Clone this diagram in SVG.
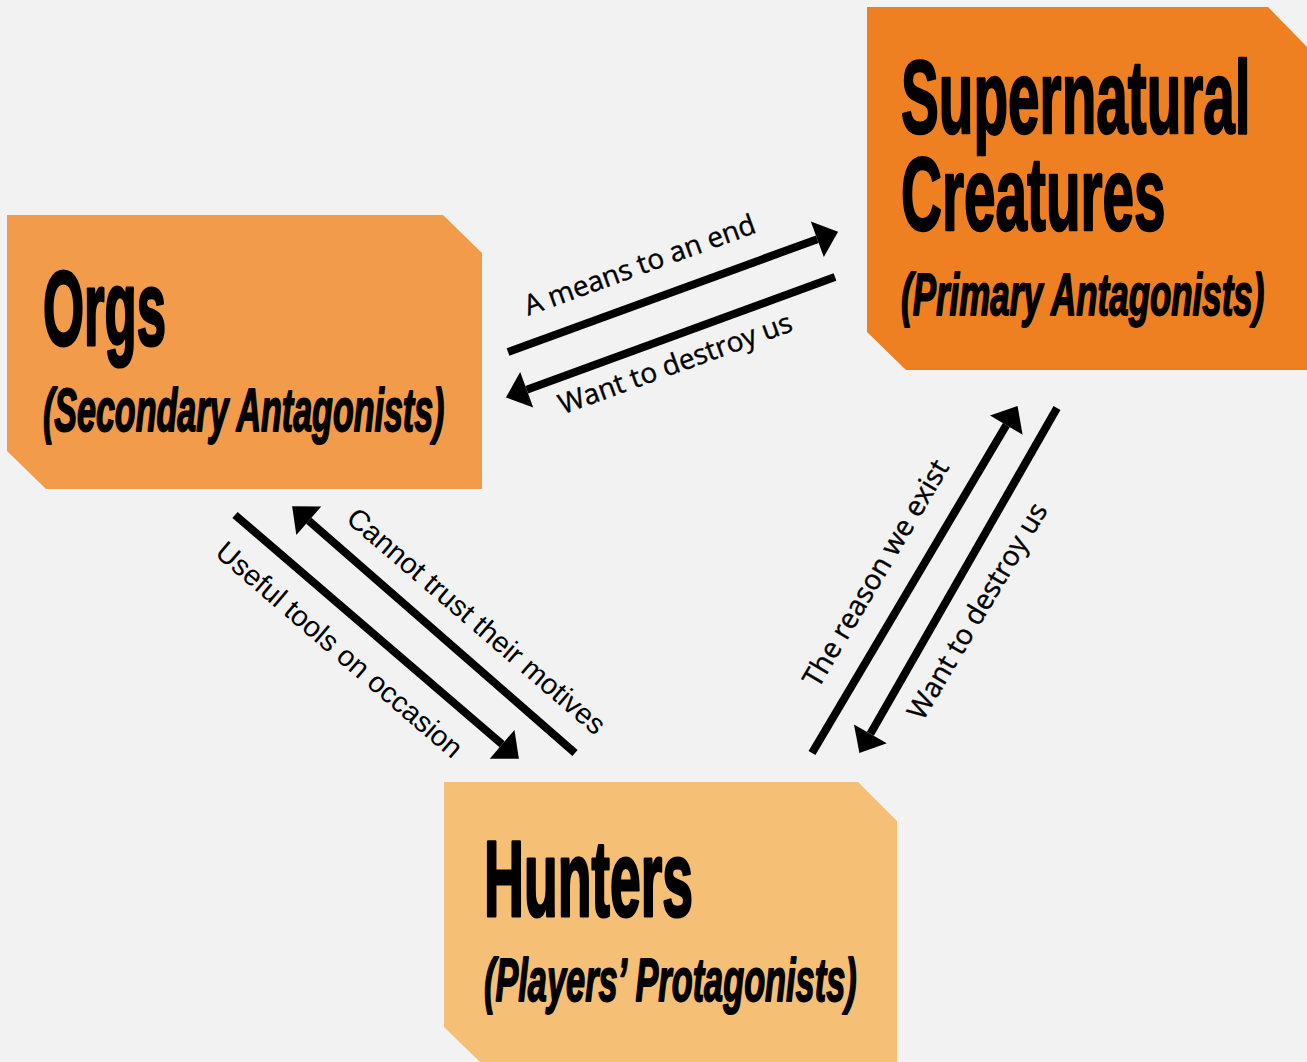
<svg xmlns="http://www.w3.org/2000/svg" width="1307" height="1062" viewBox="0 0 1307 1062">
<defs>
<marker id="ah" markerUnits="userSpaceOnUse" markerWidth="24" markerHeight="40" viewBox="0 -19 22 38" refX="0" refY="0" orient="auto">
<path d="M0,-18 L21,0 L0,18 Z" fill="#000"/>
</marker>
<style>
.title{font-family:"Liberation Sans",Arial,sans-serif;font-weight:bold;fill:#000;stroke:#000;stroke-width:2.5;stroke-linejoin:round;vector-effect:non-scaling-stroke}
.sub{font-family:"Liberation Sans",Arial,sans-serif;font-weight:bold;font-style:italic;fill:#000;stroke:#000;stroke-width:1.5;stroke-linejoin:round;vector-effect:non-scaling-stroke}
.lbl{font-family:"Open Sans","Liberation Sans",sans-serif;font-size:28px;fill:#000;text-anchor:middle;stroke:#000;stroke-width:0.4}
.lbl2{font-family:"Liberation Sans",Arial,sans-serif;font-size:29px;fill:#000;text-anchor:middle}
.conn{stroke:#000;stroke-width:8;fill:none;marker-end:url(#ah)}
</style>
</defs>
<rect width="1307" height="1062" fill="#f2f2f2"/>
<g id="orgs">
<polygon points="7,215 443,215 482,253 482,489 46,489 7,451" fill="#f29c4b"/>
<text class="title" transform="translate(43,345) scale(0.497,1)" font-size="106">Orgs</text>
<text class="sub" transform="translate(43,431) scale(0.558,1)" font-size="61">(Secondary Antagonists)</text>
</g>
<g id="supernatural">
<polygon points="867,7 1268,7 1307,47 1307,370 906,370 867,332" fill="#ef8022"/>
<text class="title" transform="translate(901,0) scale(0.545,1)" font-size="104"><tspan x="0" y="133">Supernatural</tspan><tspan x="0" y="230">Creatures</tspan></text>
<text class="sub" transform="translate(901,315) scale(0.582,1)" font-size="60">(Primary Antagonists)</text>
</g>
<g id="hunters">
<polygon points="444,782 858,782 897,821 897,1062 480,1062 444,1027" fill="#f6bf76"/>
<text class="title" transform="translate(484,916) scale(0.517,1)" font-size="107">Hunters</text>
<text class="sub" transform="translate(484,1001) scale(0.563,1)" font-size="61">(Players’ Protagonists)</text>
</g>
<g id="connectors">
<line class="conn" x1="508" y1="352" x2="817.3" y2="239.2"/>
<line class="conn" x1="835" y1="277" x2="526.7" y2="389.8"/>
<line class="conn" x1="235" y1="515" x2="502.1" y2="744.3"/>
<line class="conn" x1="575" y1="753" x2="308.8" y2="520.8"/>
<line class="conn" x1="812" y1="753" x2="1006.3" y2="425.1"/>
<line class="conn" x1="1057" y1="408" x2="870.4" y2="733.8"/>
<text class="lbl" transform="translate(643,274) rotate(-20)">A means to an end</text>
<text class="lbl" transform="translate(678.5,372.5) rotate(-20)">Want to destroy us</text>
<text class="lbl2" transform="translate(333,657.2) rotate(40.65)">Useful tools on occasion</text>
<text class="lbl2" transform="translate(470,628.5) rotate(40.65)" font-size="30">Cannot trust their motives</text>
<text class="lbl" transform="translate(884,578) rotate(-59.36)" font-size="30">The reason we exist</text>
<text class="lbl" transform="translate(985.5,616) rotate(-59.36)">Want to destroy us</text>
</g>
</svg>
